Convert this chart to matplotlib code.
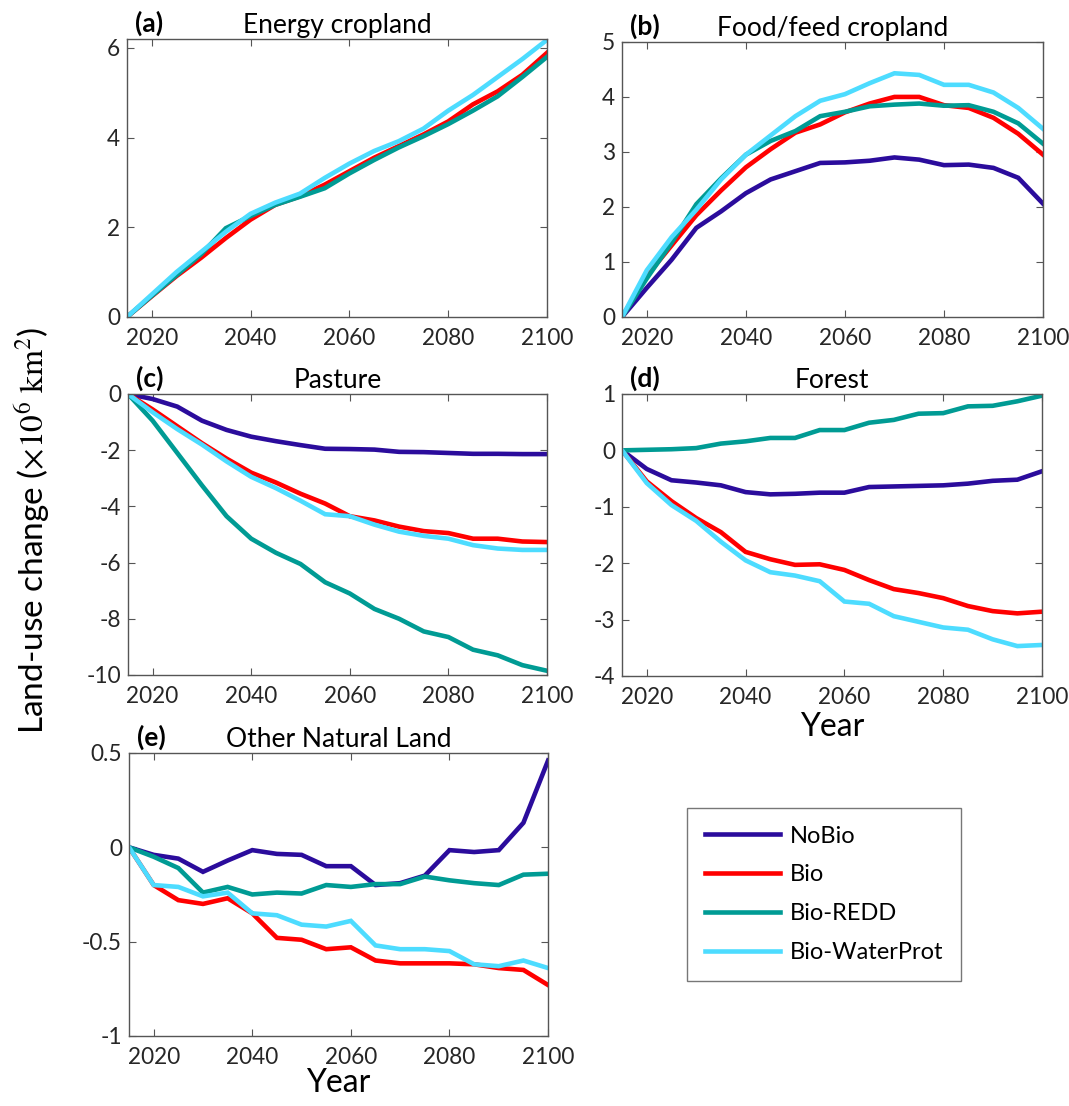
import matplotlib
matplotlib.use("Agg")
from matplotlib import pyplot as plt

plt.rcParams['font.family'] = ['Lato', 'DejaVu Sans']
plt.rcParams['mathtext.fontset'] = 'stix'
plt.rcParams['axes.unicode_minus'] = False

years = [2015, 2020, 2025, 2030, 2035, 2040, 2045, 2050, 2055, 2060,
         2065, 2070, 2075, 2080, 2085, 2090, 2095, 2100]

scenarios = ['NoBio', 'Bio', 'Bio-REDD', 'Bio-WaterProt']
colors = ['#2B0C9C', '#FF0000', '#009B94', '#4DDCFF']

# (a) Energy cropland (NoBio has none)
energy_bio = [0, 0.46, 0.91, 1.32, 1.76, 2.17, 2.5, 2.69, 2.95, 3.25,
              3.55, 3.81, 4.07, 4.36, 4.74, 5.03, 5.4, 5.89]
energy_redd = [0, 0.47, 0.93, 1.4, 1.98, 2.25, 2.5, 2.68, 2.87, 3.2,
               3.5, 3.78, 4.03, 4.3, 4.6, 4.92, 5.35, 5.8]
energy_water = [0, 0.5, 1.0, 1.45, 1.9, 2.3, 2.55, 2.75, 3.1, 3.42,
                3.7, 3.92, 4.2, 4.6, 4.95, 5.35, 5.75, 6.18]

# (b) Food/feed cropland
food_nobio = [0, 0.53, 1.04, 1.62, 1.92, 2.25, 2.5, 2.65, 2.8, 2.81,
              2.84, 2.9, 2.86, 2.76, 2.77, 2.71, 2.53, 2.06]
food_bio = [0, 0.75, 1.3, 1.85, 2.3, 2.72, 3.05, 3.35, 3.5, 3.72,
            3.88, 4.0, 4.0, 3.85, 3.8, 3.62, 3.33, 2.95]
food_redd = [0, 0.7, 1.35, 2.05, 2.52, 2.95, 3.2, 3.38, 3.65, 3.73,
             3.83, 3.86, 3.88, 3.84, 3.85, 3.73, 3.52, 3.15]
food_water = [0, 0.85, 1.45, 1.95, 2.5, 2.95, 3.3, 3.65, 3.93, 4.05,
              4.25, 4.43, 4.4, 4.22, 4.22, 4.08, 3.8, 3.42]

# (c) Pasture
past_nobio = [0, -0.18, -0.45, -0.95, -1.28, -1.52, -1.68, -1.82, -1.95, -1.96,
              -1.98, -2.06, -2.07, -2.1, -2.13, -2.13, -2.14, -2.14]
past_bio = [0, -0.55, -1.15, -1.75, -2.3, -2.8, -3.15, -3.55, -3.9, -4.35,
            -4.5, -4.72, -4.88, -4.95, -5.15, -5.15, -5.25, -5.27]
past_redd = [0, -0.95, -2.1, -3.25, -4.35, -5.15, -5.65, -6.05, -6.7, -7.1,
             -7.65, -8.0, -8.45, -8.65, -9.1, -9.3, -9.65, -9.85]
past_water = [0, -0.65, -1.25, -1.8, -2.4, -2.95, -3.35, -3.8, -4.28, -4.35,
              -4.65, -4.9, -5.05, -5.15, -5.38, -5.5, -5.55, -5.55]

# (d) Forest
for_nobio = [0, -0.33, -0.53, -0.57, -0.62, -0.74, -0.78, -0.77, -0.75, -0.75,
             -0.65, -0.64, -0.63, -0.62, -0.59, -0.54, -0.52, -0.37]
for_bio = [0, -0.55, -0.9, -1.2, -1.45, -1.8, -1.93, -2.03, -2.02, -2.12,
           -2.3, -2.46, -2.53, -2.62, -2.76, -2.85, -2.89, -2.86]
for_redd = [0, 0.01, 0.02, 0.04, 0.12, 0.16, 0.22, 0.22, 0.36, 0.36,
            0.49, 0.54, 0.65, 0.66, 0.78, 0.79, 0.87, 0.97]
for_water = [0, -0.58, -0.97, -1.25, -1.62, -1.95, -2.16, -2.22, -2.32, -2.68,
             -2.72, -2.94, -3.04, -3.14, -3.18, -3.35, -3.47, -3.45]

# (e) Other natural land
oth_nobio = [0, -0.04, -0.06, -0.13, -0.07, -0.015, -0.035, -0.04, -0.1, -0.1,
             -0.2, -0.19, -0.15, -0.015, -0.025, -0.015, 0.13, 0.46]
oth_bio = [0, -0.2, -0.28, -0.3, -0.27, -0.35, -0.48, -0.49, -0.54, -0.53,
           -0.6, -0.615, -0.615, -0.615, -0.62, -0.64, -0.65, -0.73]
oth_redd = [0, -0.05, -0.11, -0.24, -0.21, -0.25, -0.24, -0.245, -0.2, -0.21,
            -0.195, -0.195, -0.155, -0.175, -0.19, -0.2, -0.145, -0.14]
oth_water = [0, -0.2, -0.21, -0.26, -0.24, -0.35, -0.36, -0.41, -0.42, -0.39,
             -0.52, -0.54, -0.54, -0.55, -0.62, -0.63, -0.6, -0.64]

panels = [
    ('(a)', 'Energy cropland', [None, energy_bio, energy_redd, energy_water], (0, 6.2), [0, 2, 4, 6]),
    ('(b)', 'Food/feed cropland', [food_nobio, food_bio, food_redd, food_water], (0, 5), [0, 1, 2, 3, 4, 5]),
    ('(c)', 'Pasture', [past_nobio, past_bio, past_redd, past_water], (-10, 0), [-10, -8, -6, -4, -2, 0]),
    ('(d)', 'Forest', [for_nobio, for_bio, for_redd, for_water], (-4, 1), [-4, -3, -2, -1, 0, 1]),
    ('(e)', 'Other Natural Land', [oth_nobio, oth_bio, oth_redd, oth_water], (-1, 0.5), [-1, -0.5, 0, 0.5]),
]
# axes positions (left, bottom, width, height) in figure fraction
positions = [
    [0.1188, 0.7134, 0.3929, 0.2514],
    [0.5819, 0.7134, 0.3938, 0.2487],
    [0.1197, 0.3897, 0.3920, 0.2541],
    [0.5819, 0.3888, 0.3929, 0.2550],
    [0.1207, 0.0633, 0.3920, 0.2559],
]

fig = plt.figure(figsize=(10.69, 11.06), dpi=100)
axes = []
for (lab, title, series, ylim, yt), pos in zip(panels, positions):
    ax = fig.add_axes(pos)
    for name, col, vals in zip(scenarios, colors, series):
        if vals is None:
            continue
        ax.plot(years, vals, color=col, lw=3.3, label=name, solid_joinstyle='miter')
    ax.set_xlim(2015, 2100)
    ax.set_ylim(*ylim)
    ax.set_yticks(yt)
    ax.set_yticklabels(['{:g}'.format(v) for v in yt])
    ax.set_xticks([2020, 2040, 2060, 2080, 2100])
    ax.tick_params(direction='in', top=True, right=True, length=5, width=0.8,
                   color='#555555', labelcolor='#262626', labelsize=16.3)
    ax.tick_params(axis='x', pad=8)
    ax.tick_params(axis='y', pad=5)
    for s in ax.spines.values():
        s.set_color('#555555')
        s.set_linewidth(1.0)
    ax.set_title(title, fontsize=19, pad=4)
    ax.text(0.02, 1.012, lab, transform=ax.transAxes, fontsize=19,
            fontweight='bold', ha='left', va='bottom')
    axes.append(ax)

axes[3].set_xlabel('Year', fontsize=23, labelpad=3)
axes[4].set_xlabel('Year', fontsize=23, labelpad=0)

fig.text(0.031, 0.52, r'Land-use change ($\times10^{6}\ \mathrm{km}^{2}$)',
         rotation=90, fontsize=24, ha='center', va='center')

handles, labels = axes[1].get_legend_handles_labels()
leg = fig.legend(handles, labels, loc='upper left', bbox_to_anchor=(687 / 1069, 1 - 808 / 1106),
                 fontsize=17, frameon=True, fancybox=False, edgecolor='#555555',
                 handlelength=3.2, handletextpad=0.4, labelspacing=0.75,
                 borderpad=0.75, borderaxespad=0)
leg.get_frame().set_linewidth(1.0)

fig.savefig('out.png', dpi=100)
